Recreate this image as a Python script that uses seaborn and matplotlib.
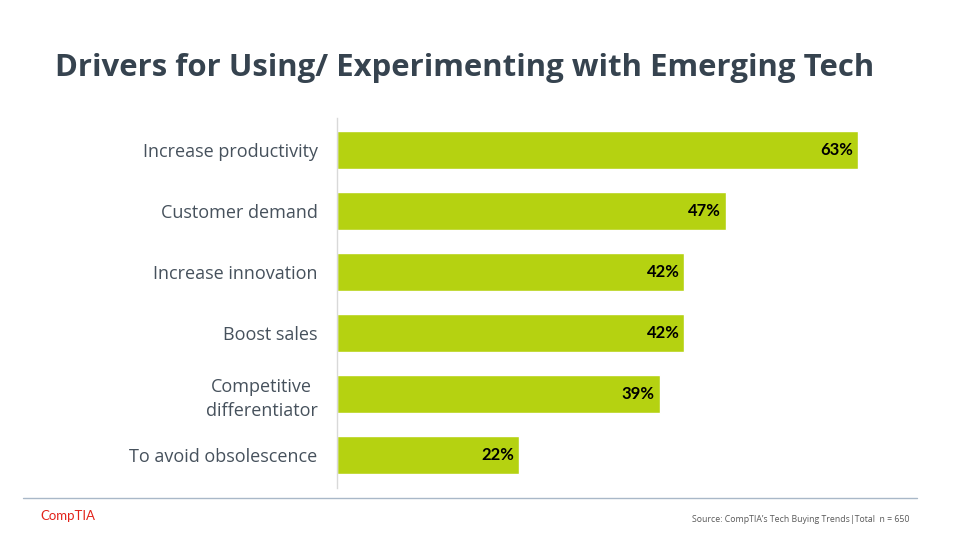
import matplotlib
matplotlib.use("Agg")
import matplotlib.pyplot as plt
import seaborn as sns
import pandas as pd

categories = ["Increase productivity", "Customer demand", "Increase innovation",
              "Boost sales", "Competitive\ndifferentiator", "To avoid obsolescence"]
values = [63, 47, 42, 42, 39, 22]
value_labels = ["63%", "47%", "42%", "42%", "39%", "22%"]

title = "Drivers for Using/ Experimenting with Emerging Tech"
source = "Source: CompTIA\u2019s Tech Buying Trends|Total  n = 650"

sns.set_theme(style="white")
plt.rcParams['font.family'] = ['Open Sans', 'DejaVu Sans']

df = pd.DataFrame({"cat": categories, "val": values})

fig = plt.figure(figsize=(9.6, 5.4), dpi=100)
W, H = 960, 540
ax = fig.add_axes([337 / W, (H - 488) / H, (900 - 337) / W, (488 - 118) / H])

sns.barplot(data=df, x="val", y="cat", color="#b5d211", saturation=1,
            width=0.62, ax=ax, orient="h")
ax.set_xlim(0, (900 - 337) / ((858 - 337) / 63))
ax.set_ylim(5.54, -0.525)
ax.set_xlabel("")
ax.set_ylabel("")
ax.set_xticks([])
for s in ["top", "right", "bottom"]:
    ax.spines[s].set_visible(False)
ax.spines["left"].set_color("#d9d9d9")
ax.spines["left"].set_linewidth(1.0)
ax.tick_params(axis="y", length=0, pad=14, labelsize=13, labelcolor="#46515c")
for t in ax.get_yticklabels():
    t.set_horizontalalignment("right")
    t.set_multialignment("center")
    t.set_linespacing(1.45)

for i, (v, lab) in enumerate(zip(values, value_labels)):
    ax.text(v - 0.6, i, lab, ha="right", va="center", fontsize=12,
            fontweight="bold", color="#000000", family=["Lato", "DejaVu Sans"])

fig.text(55 / W, 1 - 68 / H, title, ha="left", va="center", fontsize=22.4,
         fontweight="bold", color="#36434f")

fig.add_artist(plt.Line2D([23 / W, 917 / W], [1 - 498 / H, 1 - 498 / H],
                          color="#a9b8c8", linewidth=1.0))
fig.text(40 / W, 1 - 516 / H, "CompTIA", ha="left", va="center", fontsize=9.5,
         color="#e2231a", family=["Lato", "DejaVu Sans"])
fig.text(910 / W, 1 - 519 / H, source, ha="right", va="center", fontsize=6.3,
         color="#595959")

fig.savefig("out.png", dpi=100, facecolor="white")
